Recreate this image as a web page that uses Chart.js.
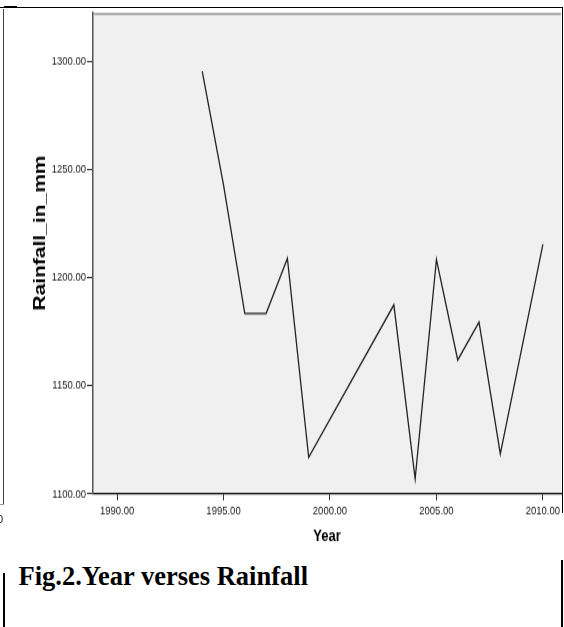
<!DOCTYPE html>
<html><head><meta charset="utf-8">
<script src="https://cdn.jsdelivr.net/npm/chart.js@4.4.0/dist/chart.umd.min.js"></script>
<style>
html,body{margin:0;padding:0;background:#fff;width:564px;height:627px;overflow:hidden;position:relative}
#wrap{position:absolute;left:0;top:0;width:564px;height:440px;transform:scaleY(1.27);transform-origin:0 0}
#c{display:block}
.ln{position:absolute;background:#000}
#cap{position:absolute;left:18.5px;top:563px;font:bold 26.5px "Liberation Serif","Times New Roman",serif;line-height:1;color:#000;white-space:nowrap}
#zero{position:absolute;left:-3px;top:513.6px;font:11px "Liberation Sans",Arial,sans-serif;line-height:1;color:#222}
</style></head><body>
<div id="wrap"><canvas id="c" width="564" height="440"></canvas></div>
<div class="ln" style="left:0;top:7px;width:563px;height:1px"></div>
<div class="ln" style="left:4px;top:6px;width:13px;height:2px"></div>
<div class="ln" style="left:3px;top:9px;width:1px;height:495px;background:#444"></div>
<div class="ln" style="left:0;top:504px;width:4px;height:1px;background:#999"></div>
<span id="zero">0</span>
<div class="ln" style="left:3px;top:573px;width:2px;height:54px"></div>
<div class="ln" style="left:561.5px;top:7px;width:1px;height:506px"></div>
<div class="ln" style="left:560.5px;top:560px;width:2.5px;height:67px"></div>
<div id="cap">Fig.2.Year verses Rainfall</div>
<script>
const years    = [1994, 1995, 1996, 1997, 1998, 1999, 2003, 2004, 2005, 2006, 2007, 2008, 2010];
const rainfall = [1295.5, 1243, 1183.5, 1183.5, 1209, 1117, 1187.5, 1107, 1208.5, 1162, 1179.5, 1118.5, 1215.5];
const xTicks = [1990, 1995, 2000, 2005, 2010];
const yTicks = [1100, 1150, 1200, 1250, 1300];
const xTitle = 'Year';
const yTitle = 'Rainfall_in_mm';

const FONT = '"Liberation Sans", Arial, Helvetica, sans-serif';

const bgPlugin = {
  id: 'bg',
  beforeDraw(chart) {
    const {ctx, chartArea: a} = chart;
    ctx.save();
    ctx.fillStyle = '#f0f0f0';
    ctx.fillRect(a.left, a.top, a.right - a.left, a.bottom - a.top);
    ctx.restore();
  },
  afterDraw(chart) {
    const {ctx, chartArea: a} = chart;
    ctx.save();
    ctx.strokeStyle = '#9a9a9a';
    ctx.lineWidth = 1.6;
    ctx.beginPath();
    ctx.moveTo(a.left, a.top + 0.8);
    ctx.lineTo(a.right, a.top + 0.8);
    ctx.stroke();
    ctx.translate(40, 183.5);
    ctx.rotate(-Math.PI / 2);
    ctx.fillStyle = '#000';
    ctx.font = 'bold 16.5px ' + FONT;
    ctx.textAlign = 'center';
    ctx.textBaseline = 'middle';
    ctx.fillText(yTitle, 0, 0);
    ctx.restore();
  }
};

new Chart(document.getElementById('c'), {
  type: 'line',
  data: {
    datasets: [{
      data: years.map((y, i) => ({x: y, y: rainfall[i]})),
      borderColor: '#222',
      borderWidth: 1.3,
      pointRadius: 0,
      tension: 0,
      fill: false
    }]
  },
  options: {
    responsive: false,
    animation: false,
    devicePixelRatio: 1,
    layout: {padding: {left: 0, right: 3, top: 10.24, bottom: 0}},
    plugins: {legend: {display: false}, tooltip: {enabled: false}},
    scales: {
      x: {
        type: 'linear',
        min: 1988.87,
        max: 2010.85,
        afterBuildTicks: s => { s.ticks = xTicks.map(v => ({value: v})); },
        afterFit: s => { s.height = 51.02; },
        grid: {drawOnChartArea: false, drawTicks: true, tickLength: 5, color: '#333', tickWidth: 1},
        border: {display: true, color: '#111', width: 1.2},
        ticks: {padding: 3, color: '#1a1a1a', autoSkip: false, maxRotation: 0,
          font: {family: FONT, size: 9.5}, callback: v => Number(v).toFixed(2)},
        title: {display: true, text: xTitle, color: '#000',
          font: {family: FONT, size: 13, weight: 'bold'}, padding: {top: 0, bottom: 10}}
      },
      y: {
        type: 'linear',
        min: 1100,
        max: 1322.5,
        afterBuildTicks: s => { s.ticks = yTicks.map(v => ({value: v})); },
        afterFit: s => { s.width = 93; },
        grid: {drawOnChartArea: false, drawTicks: true, tickLength: 6, color: '#333', tickWidth: 1},
        border: {display: true, color: '#555', width: 1.5},
        ticks: {padding: 1, color: '#1a1a1a', autoSkip: false,
          font: {family: FONT, size: 9.5}, callback: v => Number(v).toFixed(2)}
      }
    }
  },
  plugins: [bgPlugin]
});
</script>
</body></html>
